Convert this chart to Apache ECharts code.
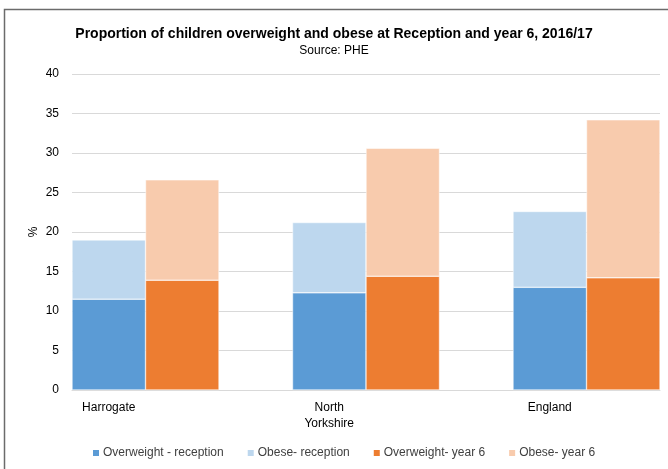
<!DOCTYPE html>
<html><head><meta charset="utf-8">
<script src="https://cdn.jsdelivr.net/npm/echarts@6/dist/echarts.min.js"></script>
<style>html,body{margin:0;padding:0;background:#fff}#c{width:668px;height:469px}</style>
</head><body><div id="c"></div>
<script>
const categories = ['Harrogate', 'North\nYorkshire', 'England'];
const overweightReception = [11.5, 12.3, 13.0];
const obeseReception = [7.5, 8.9, 9.6];
const overweightYear6 = [13.9, 14.4, 14.2];
const obeseYear6 = [12.7, 16.2, 20.0];
const seriesNames = ['Overweight - reception', 'Obese- reception', 'Overweight- year 6', 'Obese- year 6'];

const font = "'Liberation Sans Narrow', 'Liberation Sans', sans-serif";
const chart = echarts.init(document.getElementById('c'));
const bar = (name, data, stack, color) => ({
  name, type: 'bar', stack, data, xAxisIndex: 0, yAxisIndex: 0,
  barWidth: 73.5, barGap: '0%',
  itemStyle: { color, borderColor: '#fff', borderWidth: 0.5 }
});
chart.setOption({
  animation: false,
  textStyle: { fontFamily: font },
  graphic: [{ type: 'rect', shape: { x: 4.5, y: 9.5, width: 700, height: 500 },
    style: { fill: 'none', stroke: '#6b6b6b', lineWidth: 1.5 } }],
  title: {
    text: 'Proportion of children overweight and obese at Reception and year 6, 2016/17',
    subtext: 'Source: PHE', left: 'center', top: 22, itemGap: 4,
    textStyle: { fontFamily: font, fontSize: 14, fontWeight: 'bold', color: '#000' },
    subtextStyle: { fontFamily: font, fontSize: 12, color: '#000' }
  },
  legend: {
    top: 447, left: 91, padding: 0, itemWidth: 8, itemHeight: 8, itemGap: 22,
    icon: 'rect',
    textStyle: { fontFamily: font, fontSize: 12, color: '#404040', padding: [0, 0, 0, -2] }
  },
  grid: [
    // bar grid: category bands of the original chart's spacing
    { left: 35.25, right: -28.75, top: 74, bottom: 79, outerBoundsMode: 'none', containLabel: false },
    // frame grid: gridlines and value labels
    { left: 72, right: 8, top: 74, bottom: 79 }
  ],
  xAxis: [{
    gridIndex: 0, type: 'category', data: categories,
    axisLine: { show: false }, axisTick: { show: false },
    axisLabel: {
      margin: 9, color: '#000', fontSize: 12, fontFamily: font, lineHeight: 16.5,
      formatter: (v) => '{a|' + v + '}',
      rich: { a: { padding: [0, 73.5, 0, 0], color: '#000', fontSize: 12, lineHeight: 16.5, align: 'center' } }
    }
  }, {
    gridIndex: 1, type: 'category', data: categories,
    axisLine: { lineStyle: { color: '#d9d9d9' } }, axisTick: { show: false }, axisLabel: { show: false }
  }],
  yAxis: [{
    gridIndex: 0, type: 'value', min: 0, max: 40, interval: 5,
    axisLabel: { show: false }, splitLine: { show: false }, axisLine: { show: false }
  }, {
    gridIndex: 1, type: 'value', min: 0, max: 40, interval: 5, name: '%', nameLocation: 'middle',
    nameGap: 32, nameMoveOverlap: false,
    nameTextStyle: { color: '#000', fontSize: 12, fontFamily: font },
    axisLabel: { color: '#000', fontSize: 12, margin: 13 },
    splitLine: { lineStyle: { color: '#d9d9d9' } }
  }],
  series: [
    bar(seriesNames[0], overweightReception, 'rec', '#5B9BD5'),
    bar(seriesNames[1], obeseReception, 'rec', '#BDD7EE'),
    bar(seriesNames[2], overweightYear6, 'y6', '#ED7D31'),
    bar(seriesNames[3], obeseYear6, 'y6', '#F8CBAD')
  ]
});
</script></body></html>
